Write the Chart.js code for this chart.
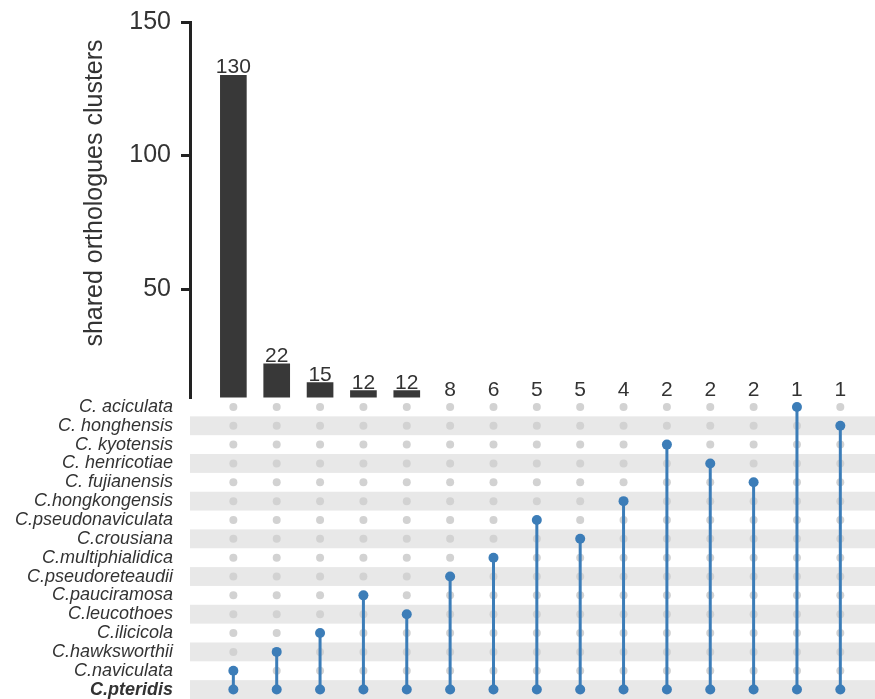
<!DOCTYPE html>
<html>
<head>
<meta charset="utf-8">
<script src="https://cdn.jsdelivr.net/npm/chart.js@4"></script>
<style>
html, body { margin: 0; padding: 0; background: #fff; overflow: hidden; }
canvas { display: block; }
</style>
</head>
<body>
<canvas id="upset" width="875" height="699"></canvas>
<script>
"use strict";

// species rows, top to bottom
var species = ["C. aciculata", "C. honghensis", "C. kyotensis", "C. henricotiae", "C. fujianensis",
    "C.hongkongensis", "C.pseudonaviculata", "C.crousiana", "C.multiphialidica", "C.pseudoreteaudii",
    "C.pauciramosa", "C.leucothoes", "C.ilicicola", "C.hawksworthii", "C.naviculata", "C.pteridis"];

// intersection sizes, left to right
var setCounts = [130, 22, 15, 12, 12, 8, 6, 5, 5, 4, 2, 2, 2, 1, 1];

// members of each intersection
var setMembers = [
    ["C.naviculata", "C.pteridis"],
    ["C.hawksworthii", "C.pteridis"],
    ["C.ilicicola", "C.pteridis"],
    ["C.pauciramosa", "C.pteridis"],
    ["C.leucothoes", "C.pteridis"],
    ["C.pseudoreteaudii", "C.pteridis"],
    ["C.multiphialidica", "C.pteridis"],
    ["C.pseudonaviculata", "C.pteridis"],
    ["C.crousiana", "C.pteridis"],
    ["C.hongkongensis", "C.pteridis"],
    ["C. kyotensis", "C.pteridis"],
    ["C. henricotiae", "C.pteridis"],
    ["C. fujianensis", "C.pteridis"],
    ["C. aciculata", "C.pteridis"],
    ["C. honghensis", "C.pteridis"]
];

var countTicks = [50, 100, 150];
var yTitle = "shared orthologues clusters";

var FONT = "'Liberation Sans', Arial, sans-serif";
var BLUE = "#3c7db8";
var GREY_DOT = "#d2d2d2";
var STRIPE = "#e8e8e8";
var BAR_COLOR = "#383838";
var BAR_MIN = 9.4;

var datasets = [];

// bars
datasets.push({
    type: "bar",
    data: setCounts.map(function (v, i) { return { x: i + 1, y: v }; }),
    xAxisID: "x",
    yAxisID: "y",
    barThickness: 26,
    backgroundColor: function (ctx) {
        return ctx.raw && ctx.raw.y < BAR_MIN ? "rgba(0,0,0,0)" : BAR_COLOR;
    },
    order: 2
});

// grey background dots
var greyPts = [];
setCounts.forEach(function (c, i) {
    species.forEach(function (s, r) { greyPts.push({ x: i + 1, y: r }); });
});
datasets.push({
    type: "scatter",
    data: greyPts,
    xAxisID: "x",
    yAxisID: "m",
    pointRadius: 4,
    pointBackgroundColor: GREY_DOT,
    pointBorderWidth: 0,
    showLine: false,
    order: 1
});

// membership lines
setMembers.forEach(function (m, i) {
    datasets.push({
        type: "line",
        data: m.map(function (s) { return { x: i + 1, y: species.indexOf(s) }; }),
        xAxisID: "x",
        yAxisID: "m",
        borderColor: BLUE,
        borderWidth: 3,
        pointRadius: 5,
        pointBackgroundColor: BLUE,
        pointBorderWidth: 0,
        fill: false,
        order: 0
    });
});

// alternating row stripes
var stripes = {
    id: "stripes",
    beforeDatasetsDraw: function (chart) {
        var m = chart.scales.m, c = chart.ctx;
        c.save();
        c.fillStyle = STRIPE;
        for (var r = 1; r < species.length; r += 2) {
            var a = m.getPixelForValue(r - 0.5), b = m.getPixelForValue(r + 0.5);
            c.fillRect(chart.chartArea.left, Math.min(a, b), chart.width - chart.chartArea.left, Math.abs(b - a));
        }
        c.restore();
    }
};

// count labels above bars + y title
var labels = {
    id: "labels",
    afterDatasetsDraw: function (chart) {
        var c = chart.ctx, y = chart.scales.y;
        var meta = chart.getDatasetMeta(0);
        c.save();
        c.fillStyle = "#333";
        c.font = "21px " + FONT;
        c.textAlign = "center";
        c.textBaseline = "alphabetic";
        meta.data.forEach(function (el, i) {
            var top = Math.min(el.y, y.bottom);
            c.fillText(String(setCounts[i]), el.x, top - 2);
        });
        c.translate(95, 193);
        c.rotate(-Math.PI / 2);
        c.font = "25px " + FONT;
        c.textBaseline = "middle";
        c.fillText(yTitle, 0, 0);
        c.restore();
    }
};

var ctx = document.getElementById("upset").getContext("2d");
var chart = new Chart(ctx, {
    type: "bar",
    data: { datasets: datasets },
    plugins: [stripes, labels],
    options: {
        responsive: false,
        devicePixelRatio: 1,
        animation: false,
        layout: { autoPadding: false, padding: { top: 22, left: 0, right: 0, bottom: 0 } },
        plugins: { legend: { display: false }, tooltip: { enabled: false } },
        scales: {
            x: { type: "linear", display: false, offset: false, grid: { offset: false }, min: 0, max: 15.8 },
            m: {
                type: "linear",
                position: "left",
                stack: "v",
                stackWeight: 301.5,
                min: -0.5,
                max: species.length - 0.5,
                reverse: true,
                afterBuildTicks: function (s) {
                    s.ticks = species.map(function (n, r) { return { value: r }; });
                },
                afterFit: function (s) { s.width = 190; s.paddingTop = 0; s.paddingBottom = 0; },
                ticks: {
                    autoSkip: false,
                    callback: function (v) { return species[v]; },
                    color: "#333",
                    padding: 17,
                    font: function (c) {
                        var last = c.tick && c.tick.value === species.length - 1;
                        return { family: FONT, size: 18, style: "italic", weight: last ? "bold" : "normal" };
                    }
                },
                grid: { display: false, drawTicks: false },
                border: { display: false }
            },
            y: {
                type: "linear",
                position: "left",
                stack: "v",
                stackWeight: 375.5,
                min: BAR_MIN,
                max: 150,
                afterBuildTicks: function (s) {
                    s.ticks = countTicks.map(function (v) { return { value: v }; });
                },
                afterFit: function (s) { s.width = 190; s.paddingTop = 0; s.paddingBottom = 0; },
                ticks: { font: { family: FONT, size: 25 }, color: "#333", padding: 10 },
                grid: { drawOnChartArea: false, drawTicks: true, tickLength: 9, lineWidth: 3, color: "#222" },
                border: { display: true, width: 3, color: "#222" }
            }
        }
    }
});
</script>
</body>
</html>
